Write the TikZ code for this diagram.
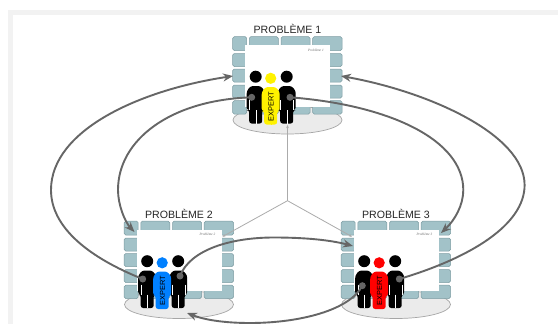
\documentclass[tikz,border=0pt]{standalone}
\usepackage{fontspec}
\setmainfont{Liberation Sans}
\newfontfamily\tinyfont{Liberation Serif}
\usetikzlibrary{arrows.meta}
\definecolor{brickfill}{HTML}{A2C2C8}
\definecolor{brickline}{HTML}{7E9DA3}
\definecolor{linkgrey}{HTML}{666666}
\definecolor{spokegrey}{HTML}{ABABAB}
\definecolor{expertblue}{HTML}{0080FF}
\tikzset{
  brick/.style={fill=brickfill,draw=brickline,line width=.5pt,rounded corners=1.5pt},
  sheet/.style={fill=white,draw=none},
  floorshape/.style={fill=black!8,draw=black!35,line width=.7pt},
  paneltitle/.style={font=\fontsize{10.6}{12}\selectfont,text=black!85,inner sep=0pt},
  smalllabel/.style={font=\tinyfont\itshape\fontsize{3.4}{4}\selectfont,text=black!60,inner sep=0pt,anchor=east},
  expertlabel/.style={font=\fontsize{7.4}{8}\selectfont,text=black,inner sep=0pt,rotate=90},
  link/.style={draw=linkgrey,line width=1.9pt,-{Stealth[length=10pt,width=8pt]}},
  linkdot/.style={fill=linkgrey,draw=none},
  spoke/.style={draw=spokegrey,line width=.8pt,-{Stealth[length=3pt,width=2.5pt]}},
}
\newcommand{\personshape}[6]{%
  \fill[#5] (#1,#3) circle (#4);
  \fill[#5,rounded corners=2.5pt] (#1-9,#2+24) -- (#1-9,#2+5) -- (#1-5,#2) -- (#1+5,#2)
     -- (#1+9,#2+5) -- (#1+9,#2+24) -- (#1+6.5,#2+24) -- (#1+6.5,#2+37.5) -- (#1-6.5,#2+37.5) -- (#1-6.5,#2+24) -- cycle;
  \draw[#6,line width=.4pt] (#1-6.5,#2+14) -- (#1-6.5,#2+24) (#1+6.5,#2+14) -- (#1+6.5,#2+24) (#1,#2+24) -- (#1,#2+37.5);
}
\newcommand{\panelgroup}[5]{%
\begin{scope}[shift={(#1,#2)}]
  \draw[floorshape] (287.5,120) ellipse (54.5 and 14);
  \foreach \xa/\xb in {232.7/246.7,249.3/278.3,281/310,312.7/342}{
    \draw[brick] (\xa,36.7) rectangle (\xb,50.5);
    \draw[brick] (\xa,100.7) rectangle (\xb,114);
  }
  \foreach \ya/\yb in {53.5/66.5,69/82,85/98}{
    \draw[brick] (232.7,\ya) rectangle (246.7,\yb);
    \draw[brick] (320,\ya) rectangle (342,\yb);
  }
  \fill[sheet] (245,45) rectangle (330,106.7);
  \node[paneltitle] (#5title) at (287.5,29) {PROBLÈME #3};
  \node[smalllabel] (#5small) at (324,50) {Problème #3};
  \personshape{255.7}{86}{76.7}{6}{black}{white}
  \personshape{286.7}{86}{76.7}{6}{black}{white}
  \personshape{270.7}{87}{78.3}{5.6}{#4}{#4}
  \node[expertlabel] (#5expert) at (271,106.5) {EXPERT};
\end{scope}}
\begin{document}
\begin{tikzpicture}[x=1pt,y=-1pt]
\useasboundingbox (0,0) rectangle (558,324);
\fill[white] (0,0) rectangle (558,324);
\fill[black!5] (8,10) rectangle (558,324);
\fill[white] (13,15) rectangle (558,324);
\panelgroup{0}{0}{1}{yellow}{a}
\panelgroup{-108.5}{184.5}{2}{expertblue}{b}
\panelgroup{108.5}{184.5}{3}{red}{c}
\coordinate (hub) at (287.5,200.7);
\coordinate (spokeA) at (287.5,125);
\coordinate (spokeB) at (222.4,236.7);
\coordinate (spokeC) at (352,236.7);
\draw[spoke] (hub) -- (spokeA);
\draw[spoke] (hub) -- (spokeB);
\draw[spoke] (hub) -- (spokeC);
\coordinate (aL) at (251.7,97.3);
\coordinate (aR) at (290,97.3);
\coordinate (bL) at (142.7,279);
\coordinate (bR) at (180,276);
\coordinate (cL) at (362.3,285.7);
\coordinate (cR) at (399.3,279);
\coordinate (tipA) at (233,76);
\coordinate (tipB) at (134.5,232);
\coordinate (tipC) at (441,233);
\coordinate (tipD) at (341,76);
\coordinate (tipE) at (353,246);
\coordinate (tipF) at (187,313);
\coordinate (extA) at (51,190);
\coordinate (extB) at (118,190);
\coordinate (extC) at (463.3,190);
\coordinate (extD) at (524.6,185);
\coordinate (extE) at (274,237.5);
\coordinate (extF) at (250,323);
\draw[link] (bL) .. controls (90,258) and (51,228) .. (extA) .. controls (51,130) and (140,90) .. (tipA);
\draw[link] (aL) .. controls (170,100) and (118,140) .. (extB) .. controls (118,205) and (125,222) .. (tipB);
\draw[link] (aR) .. controls (390,105) and (463.3,140) .. (extC) .. controls (463.3,205) and (455,220) .. (tipC);
\draw[link] (cR) .. controls (470,258) and (524.6,225) .. (extD) .. controls (524.6,135) and (430,92) .. (tipD);
\draw[link] (bR) .. controls (190,250) and (230,237.5) .. (extE) .. controls (305,237.5) and (330,240) .. (tipE);
\draw[link] (cL) .. controls (350,310) and (300,323) .. (extF) .. controls (225,323) and (205,320) .. (tipF);
\foreach \p in {aL,aR,bL,bR,cL,cR}{\fill[linkdot] (\p) circle (3.5);}
\end{tikzpicture}
\end{document}
